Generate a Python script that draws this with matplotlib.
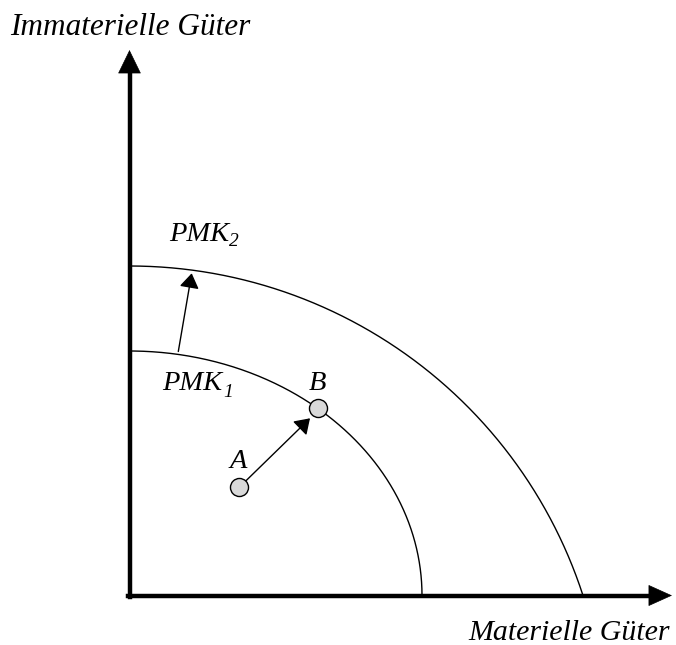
import numpy as np
import matplotlib
matplotlib.use("Agg")
import matplotlib.pyplot as plt

# ---- data (units relative to the origin of the diagram) ----
pmk1_intercepts = [292.5, 244.5]      # x-intercept, y-intercept (quarter ellipse)
pmk2_intercepts = [453.5, 329.5]      # x-intercept, y-intercept (circular arc, centre on y-axis)
point_A = [109.2, 108.8]
point_B = [188.8, 187.2]
shift_arrow_start = [48.8, 244.0]
shift_arrow_end = [62.2, 322.2]
ab_arrow_start = [115.5, 113.8]
ab_arrow_end = [180.5, 177.2]
axis_max = [542.5, 545.5]
labels_axes = ["Materielle Güter", "Immaterielle Güter"]
labels_curves = ["PMK", "1", "2"]
labels_points = ["A", "B"]

FONT = "Liberation Serif"
OX, OY = 129.5, 595.5   # pixel position of the origin

fig = plt.figure(figsize=(6.76, 6.45), dpi=100)
ax = fig.add_axes([0, 0, 1, 1])
ax.set_xlim(-OX, 676 - OX)
ax.set_ylim(-(645 - OY), OY)
ax.axis("off")


def px(x, y):
    return x - OX, OY - y


# ---- axes with arrow heads ----
lw_axis = 3.2
ax.plot([0, 0], [-1.5, axis_max[1] - 18], color="black", lw=lw_axis,
        solid_capstyle="projecting", zorder=3)
ax.plot([-1.5, axis_max[0] - 18], [0, 0], color="black", lw=lw_axis,
        solid_capstyle="projecting", zorder=3)
ax.annotate("", xy=(0, axis_max[1]), xytext=(0, axis_max[1] - 30),
            arrowprops=dict(arrowstyle="-|>,head_length=1.6,head_width=0.78",
                            mutation_scale=10, lw=0.5, color="black",
                            shrinkA=0, shrinkB=0), zorder=4)
ax.annotate("", xy=(axis_max[0], 0), xytext=(axis_max[0] - 30, 0),
            arrowprops=dict(arrowstyle="-|>,head_length=1.6,head_width=0.72",
                            mutation_scale=10, lw=0.5, color="black",
                            shrinkA=0, shrinkB=0), zorder=4)

# ---- PMK1: quarter ellipse ----
a1, b1 = pmk1_intercepts
t = np.linspace(0, np.pi / 2, 400)
ax.plot(a1 * np.cos(t), b1 * np.sin(t), color="black", lw=1.0, zorder=2)

# ---- PMK2: circular arc with centre on the y-axis ----
u2, v2 = pmk2_intercepts
R = (u2 ** 2 + v2 ** 2) / (2 * v2)
cy = v2 - R
phi_end = np.arcsin(u2 / R)
phi = np.linspace(0, phi_end, 400)
ax.plot(R * np.sin(phi), cy + R * np.cos(phi), color="black", lw=1.0, zorder=2)

# ---- arrows ----
for start, end in [(shift_arrow_start, shift_arrow_end), (ab_arrow_start, ab_arrow_end)]:
    ax.annotate("", xy=end, xytext=start,
                arrowprops=dict(arrowstyle="-|>,head_length=0.9,head_width=0.6",
                                mutation_scale=10, lw=1.0, color="black",
                                shrinkA=0, shrinkB=0), zorder=3)

# ---- points ----
ax.scatter([point_A[0], point_B[0]], [point_A[1], point_B[1]], s=13 ** 2,
           facecolor="#d9d9d9", edgecolor="black", linewidth=1.0, zorder=5)

# ---- text ----
ax.text(*px(10, 35), labels_axes[1], fontsize=22.5, family=FONT,
        style="italic", ha="left", va="baseline")
ax.text(*px(670, 639.5), labels_axes[0], fontsize=21.5, family=FONT,
        style="italic", ha="right", va="baseline")

fs2 = 20.5
fs_sub = 14
ax.text(*px(169, 240.7), labels_curves[0], fontsize=fs2, family=FONT,
        style="italic", ha="left", va="baseline")
ax.text(*px(229, 246), labels_curves[2], fontsize=fs_sub, family=FONT,
        style="italic", ha="left", va="baseline")
ax.text(*px(162.5, 390), labels_curves[0], fontsize=fs2, family=FONT,
        style="italic", ha="left", va="baseline")
ax.text(*px(223, 396.7), labels_curves[1], fontsize=fs_sub, family=FONT,
        style="italic", ha="left", va="baseline")

ax.text(*px(238, 468), labels_points[0], fontsize=fs2, family=FONT,
        style="italic", ha="center", va="baseline")
ax.text(*px(317, 390), labels_points[1], fontsize=fs2, family=FONT,
        style="italic", ha="center", va="baseline")

fig.savefig("out.png", dpi=100)
